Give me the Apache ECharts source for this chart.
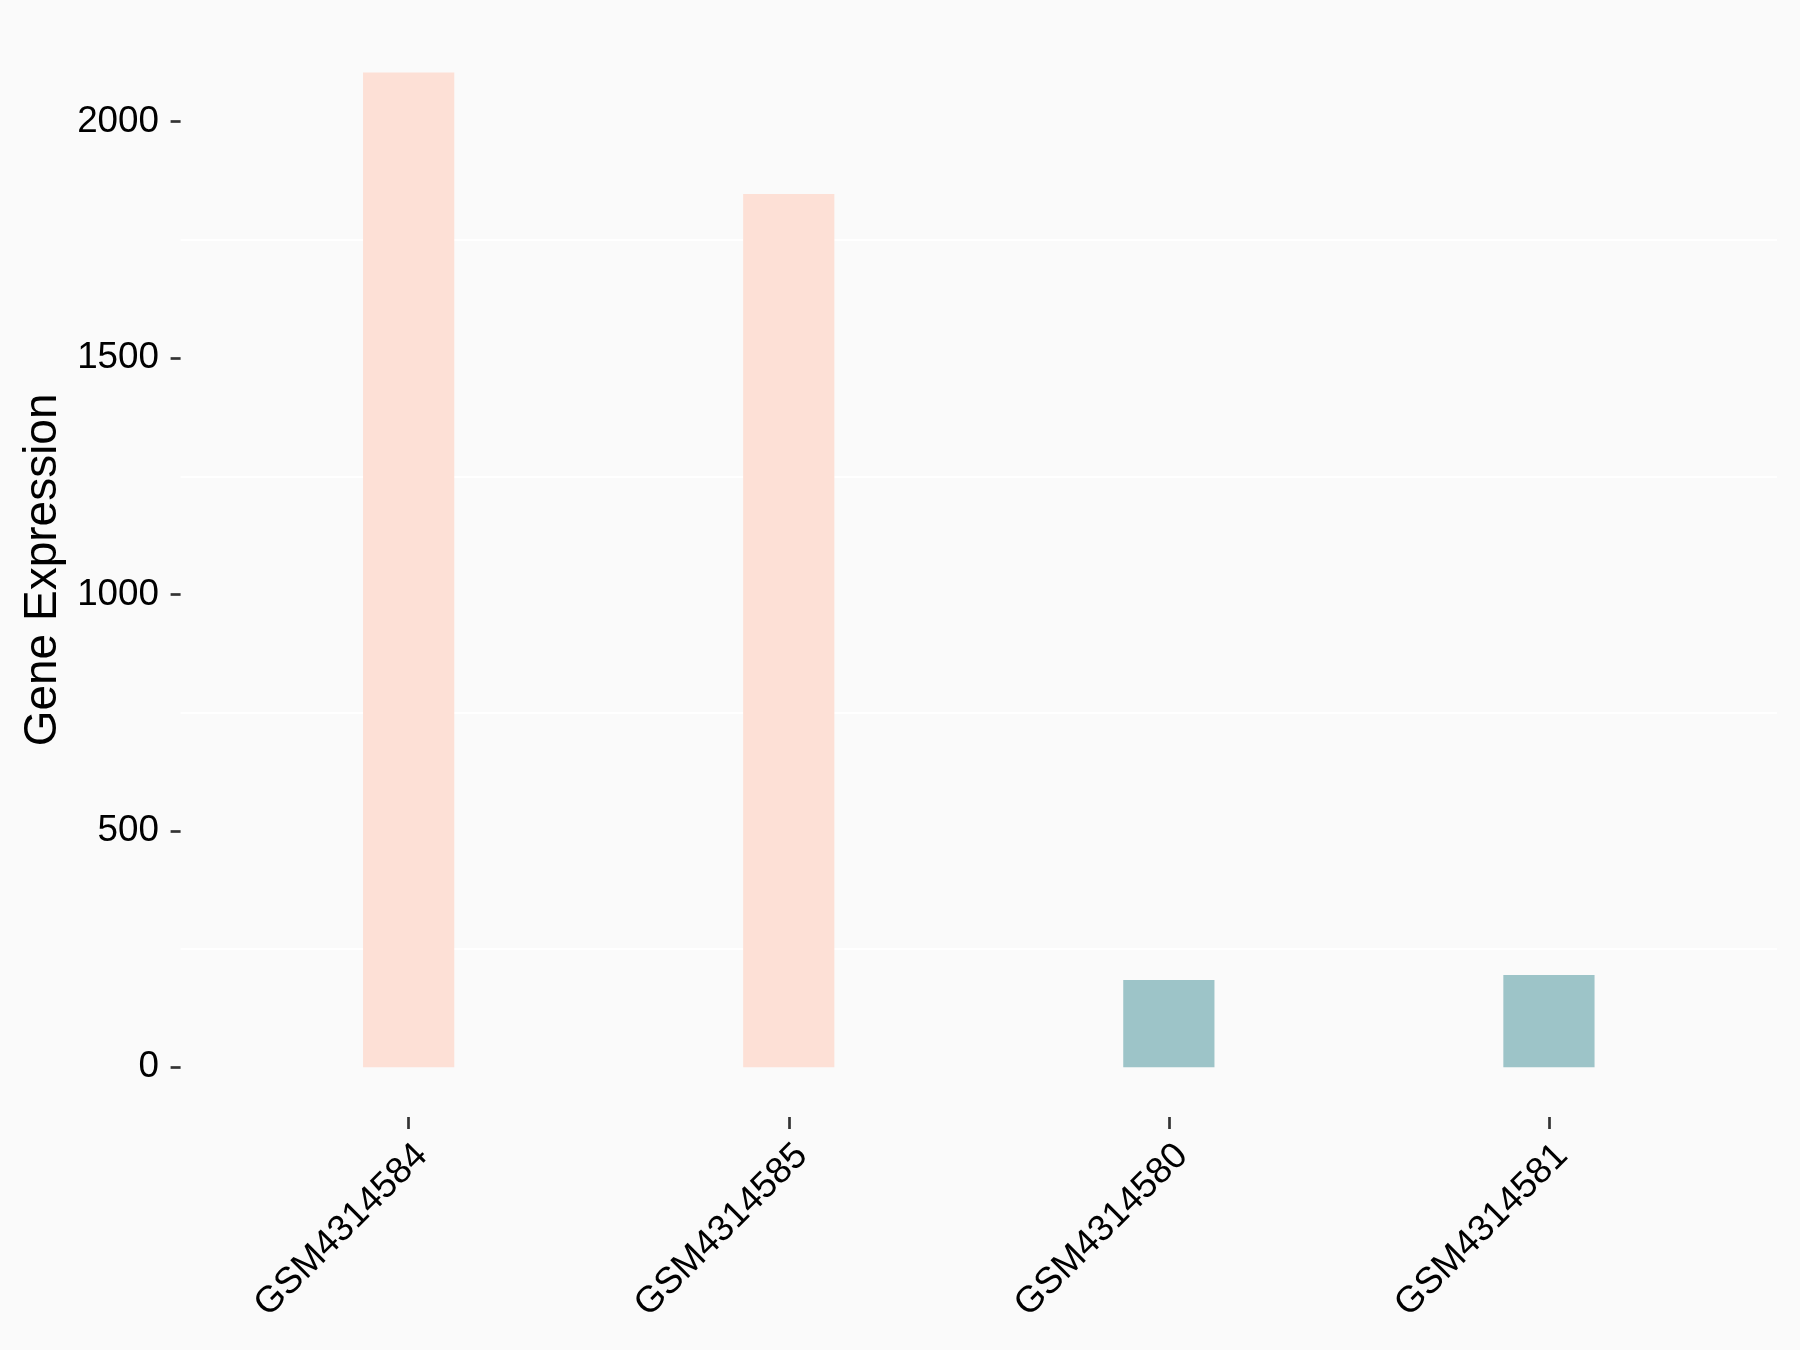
<!DOCTYPE html>
<html><head><meta charset="utf-8">
<script src="https://cdn.jsdelivr.net/npm/echarts@6/dist/echarts.min.js"></script>
<style>html,body{margin:0;padding:0;background:#FAFAFA;}#c{width:1800px;height:1350px;}</style>
</head><body><div id="c"></div>
<script>
// ---- data ----
const categories = ['GSM4314584', 'GSM4314585', 'GSM4314580', 'GSM4314581'];
const values = [2104, 1847, 184.6, 195.2];
const groupColors = ['#FDE0D6', '#FDE0D6', '#9DC4C8', '#9DC4C8'];
const yTickValues = [0, 500, 1000, 1500, 2000];
const minorGrid = [250, 1750]; // first and last minor gridline, step 500
const yTitle = 'Gene Expression';

// ---- layout (ggplot-like panel) ----
const W = 1800, H = 1350;
const panelL = 180.6, panelR = 1777, panelT = 22.8, panelB = 1117;
const nCat = categories.length;
const unit = (panelR - panelL) / (nCat - 1 + 1.2);
const barsL = panelL + 0.1 * unit, barsR = panelR - 0.1 * unit;
const vmax = Math.max(...values);
const yMin = -0.05 * vmax, yMax = 1.05 * vmax;
const pix = v => panelB - (v - yMin) / (yMax - yMin) * (panelB - panelT);

const font = "'Liberation Sans', Arial, sans-serif";
const chart = echarts.init(document.getElementById('c'), null, {renderer: 'canvas'});
chart.setOption({
  backgroundColor: '#FAFAFA',
  animation: false,
  grid: [
    {left: barsL, right: W - barsR, top: panelT, bottom: H - panelB, containLabel: false},
    {left: panelL, right: W - panelR, top: pix(minorGrid[1]), bottom: H - pix(minorGrid[0]), containLabel: false}
  ],
  xAxis: [
    {
      type: 'category', gridIndex: 0, data: categories, position: 'bottom',
      axisLine: {show: true, onZero: false, lineStyle: {color: '#FAFAFA', width: 0, opacity: 0}},
      axisTick: {show: true, inside: false, alignWithLabel: true, length: 12, lineStyle: {color: '#333333', width: 2.7}},
      axisLabel: {rotate: 45, margin: 20, color: '#000', fontSize: 36.8, fontFamily: font, verticalAlign: 'top', interval: 0},
      splitLine: {show: false}
    },
    {type: 'value', gridIndex: 1, show: false, min: 0, max: 1}
  ],
  yAxis: [
    {
      type: 'value', gridIndex: 0, min: yMin, max: yMax, offset: barsL - panelL,
      axisLine: {show: false},
      axisTick: {show: true, length: 10, lineStyle: {color: '#333333', width: 2.7}},
      axisLabel: {showMinLabel: false, showMaxLabel: false, margin: 21.6, color: '#000', fontSize: 36.8, fontFamily: font,
        formatter: v => (yTickValues.indexOf(Math.round(v)) >= 0 ? String(Math.round(v)) : '')},
      splitLine: {show: false},
      name: yTitle, nameLocation: 'middle', nameRotate: 90, nameGap: 112,
      nameTextStyle: {color: '#000', fontSize: 46, fontFamily: font}
    },
    {
      type: 'value', gridIndex: 1, min: minorGrid[0], max: minorGrid[1], interval: 500,
      axisLine: {show: false}, axisTick: {show: false}, axisLabel: {show: false},
      splitLine: {show: true, lineStyle: {color: '#FFFFFF', width: 2}}
    }
  ],
  series: [{
    type: 'bar', xAxisIndex: 0, yAxisIndex: 0,
    barWidth: '24%',
    data: values.map((v, i) => ({value: v, itemStyle: {color: groupColors[i]}})),
    z: 3
  }]
});
</script></body></html>
